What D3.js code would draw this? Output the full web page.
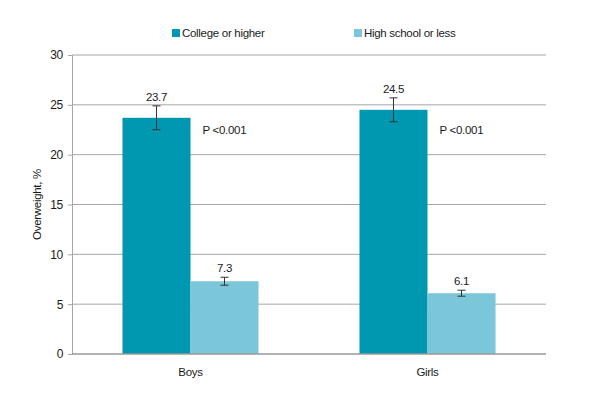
<!DOCTYPE html>
<html>
<head>
<meta charset="utf-8">
<script src="https://cdn.jsdelivr.net/npm/d3@7"></script>
<style>
  body { margin: 0; background: #fff; }
  svg text { font-family: "Liberation Sans Narrow", "Arial Narrow", "Liberation Sans", Arial, sans-serif; font-size: 11.5px; letter-spacing: -0.3px; fill: #1a1a1a; }
</style>
</head>
<body>
<svg id="chart" width="600" height="400"></svg>
<script>
const categories = ["Boys", "Girls"];
const seriesNames = ["College or higher", "High school or less"];
const collegeValues = [23.7, 24.5];
const collegeErrors = [1.2, 1.2];
const highSchoolValues = [7.3, 6.1];
const highSchoolErrors = [0.4, 0.3];
const pLabels = ["P <0.001", "P <0.001"];
const yTicks = [0, 5, 10, 15, 20, 25, 30];
const colors = ["#0098b0", "#7bc6d9"];

const width = 600;
const height = 400;
const margin = { top: 55, right: 54, bottom: 46, left: 72 };

const svg = d3.select("#chart");

const xScale = d3.scaleBand()
  .domain(categories)
  .range([margin.left, width - margin.right])
  .paddingInner(0.426)
  .paddingOuter(0.213);

const subScale = d3.scaleBand()
  .domain(seriesNames)
  .range([0, xScale.bandwidth()]);

const yScale = d3.scaleLinear()
  .domain([0, 30])
  .range([height - margin.bottom, margin.top]);

// gridlines
svg.append("g")
  .selectAll("line")
  .data(yTicks.filter((d) => d > 0))
  .join("line")
  .attr("x1", margin.left)
  .attr("x2", width - margin.right)
  .attr("y1", (d) => yScale(d))
  .attr("y2", (d) => yScale(d))
  .attr("stroke", "#a6a6a6")
  .attr("stroke-width", 1);

// y axis
const yAxis = svg.append("g")
  .attr("transform", `translate(${margin.left}, 0)`)
  .call(d3.axisLeft(yScale).tickValues(yTicks).tickSize(4).tickPadding(5));
yAxis.select(".domain").attr("stroke", "#a6a6a6");
yAxis.selectAll(".tick line").attr("stroke", "#a6a6a6");
yAxis.selectAll("text").style("font-size", "12px");

// build rows for bars
const rows = [];
categories.forEach((c, i) => {
  rows.push({ cat: c, series: seriesNames[0], value: collegeValues[i], err: collegeErrors[i], color: colors[0] });
  rows.push({ cat: c, series: seriesNames[1], value: highSchoolValues[i], err: highSchoolErrors[i], color: colors[1] });
});

const barX = (d) => xScale(d.cat) + subScale(d.series);
const barMid = (d) => barX(d) + subScale.bandwidth() / 2;

svg.append("g")
  .selectAll("rect")
  .data(rows)
  .join("rect")
  .attr("x", barX)
  .attr("width", subScale.bandwidth())
  .attr("y", (d) => yScale(d.value))
  .attr("height", (d) => yScale(0) - yScale(d.value))
  .attr("fill", (d) => d.color);

// x axis line
svg.append("line")
  .attr("x1", margin.left)
  .attr("x2", width - margin.right)
  .attr("y1", yScale(0))
  .attr("y2", yScale(0))
  .attr("stroke", "#999")
  .attr("stroke-width", 1.5);

// error bars
const errG = svg.append("g").attr("stroke", "#333").attr("stroke-width", 1);
rows.forEach((d) => {
  const x = barMid(d);
  errG.append("line").attr("x1", x).attr("x2", x)
    .attr("y1", yScale(d.value + d.err)).attr("y2", yScale(d.value - d.err));
  errG.append("line").attr("x1", x - 4).attr("x2", x + 4)
    .attr("y1", yScale(d.value + d.err)).attr("y2", yScale(d.value + d.err));
  errG.append("line").attr("x1", x - 4).attr("x2", x + 4)
    .attr("y1", yScale(d.value - d.err)).attr("y2", yScale(d.value - d.err));
});

// value labels
svg.append("g")
  .selectAll("text")
  .data(rows)
  .join("text")
  .attr("x", barMid)
  .attr("y", (d) => yScale(d.value + d.err) - 5)
  .attr("text-anchor", "middle")
  .text((d) => d.value.toFixed(1));

// p-value labels
svg.append("g")
  .selectAll("text")
  .data(categories)
  .join("text")
  .attr("x", (d) => xScale(d) + subScale.bandwidth() + 12)
  .attr("y", yScale(22.5) + 4)
  .text((d, i) => pLabels[i]);

// category labels
svg.append("g")
  .selectAll("text")
  .data(categories)
  .join("text")
  .attr("x", (d) => xScale(d) + xScale.bandwidth() / 2)
  .attr("y", 376)
  .attr("text-anchor", "middle")
  .text((d) => d);

// y axis title
svg.append("text")
  .attr("transform", `translate(41, ${yScale(15)}) rotate(-90)`)
  .attr("text-anchor", "middle")
  .text("Overweight, %");

// legend
const legendX = [172, 354];
const legend = svg.append("g")
  .selectAll("g")
  .data(seriesNames)
  .join("g")
  .attr("transform", (d, i) => `translate(${legendX[i]}, 29)`);
legend.append("rect").attr("width", 8).attr("height", 8).attr("fill", (d, i) => colors[i]);
legend.append("text").attr("x", 10).attr("y", 8).text((d) => d);
</script>
</body>
</html>
